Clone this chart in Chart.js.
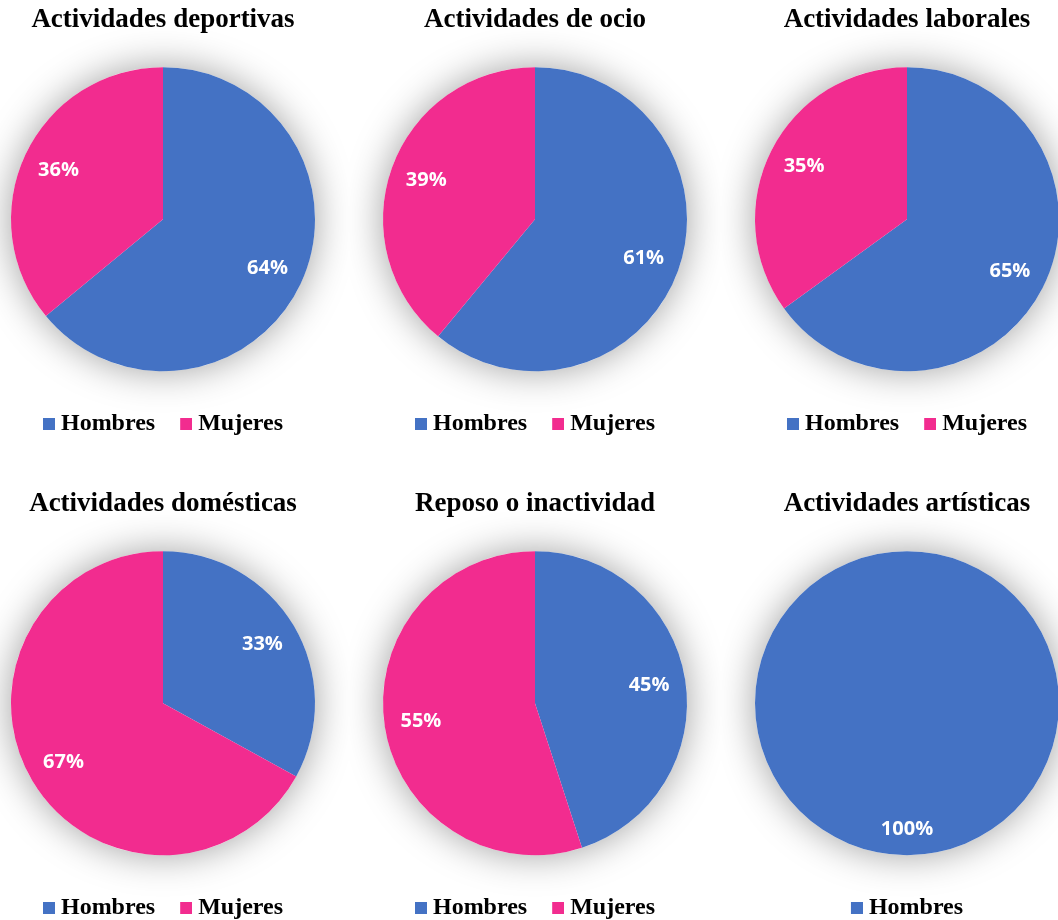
<!DOCTYPE html>
<html>
<head>
<meta charset="utf-8">
<script src="https://cdn.jsdelivr.net/npm/chart.js@4"></script>
<style>
  body { margin: 0; background: #fff; overflow: hidden; }
  #wrap { position: relative; width: 1058px; height: 920px; overflow: hidden; }
  #wrap canvas { position: absolute; }
</style>
</head>
<body>
<div id="wrap"></div>
<script>
// Datos de cada gráfico
const titulos = ['Actividades deportivas', 'Actividades de ocio', 'Actividades laborales',
                 'Actividades domésticas', 'Reposo o inactividad', 'Actividades artísticas'];
const series = ['Hombres', 'Mujeres'];
const hombres = [64, 61, 65, 33, 45, 100];
const mujeres = [36, 39, 35, 67, 55, 0];
const colores = ['#4472C4', '#F22C8F'];

// Cuadrito de color para la leyenda (más pegado al texto)
function cuadro(color) {
    const c = document.createElement('canvas');
    c.width = 18;
    c.height = 12;
    const g = c.getContext('2d');
    g.fillStyle = color;
    g.fillRect(6, 0, 12, 12);
    return c;
}

// Sombra difusa alrededor del pastel
const sombraPlugin = {
    id: 'sombra',
    beforeDatasetsDraw(chart) {
        const arc = chart.getDatasetMeta(0).data[0];
        if (!arc) return;
        const ctx = chart.ctx;
        ctx.save();
        ctx.shadowColor = 'rgba(0, 0, 0, 0.38)';
        ctx.shadowBlur = 38;
        ctx.fillStyle = '#fff';
        ctx.beginPath();
        ctx.arc(arc.x, arc.y, arc.outerRadius, 0, Math.PI * 2);
        ctx.fill();
        ctx.restore();
    }
};

// Etiquetas de porcentaje dentro de cada porción
const etiquetasPlugin = {
    id: 'etiquetas',
    afterDatasetsDraw(chart) {
        const ctx = chart.ctx;
        const meta = chart.getDatasetMeta(0);
        const valores = chart.data.datasets[0].data;
        const total = valores.reduce((a, b) => a + b, 0);
        ctx.save();
        ctx.fillStyle = '#fff';
        ctx.font = 'bold 20px "Open Sans"';
        ctx.textAlign = 'center';
        ctx.textBaseline = 'middle';
        meta.data.forEach((arc, i) => {
            const mid = (arc.startAngle + arc.endAngle) / 2;
            const f = meta.data.length === 1 ? 0.83 : 0.76;
            const x = arc.x + Math.cos(mid) * arc.outerRadius * f;
            const y = arc.y + Math.sin(mid) * arc.outerRadius * f;
            ctx.fillText(Math.round(valores[i] / total * 100) + '%', x, y);
        });
        ctx.restore();
    }
};

const wrap = document.getElementById('wrap');

titulos.forEach((titulo, i) => {
    const canvas = document.createElement('canvas');
    canvas.width = 372;
    canvas.height = 484;
    canvas.style.left = (-23 + (i % 3) * 372) + 'px';
    canvas.style.top = (Math.floor(i / 3) * 484) + 'px';
    wrap.appendChild(canvas);

    // Solo las series con valor
    const valores = [hombres[i], mujeres[i]];
    const idx = [0, 1].filter(k => valores[k] > 0);

    new Chart(canvas, {
        type: 'pie',
        data: {
            labels: idx.map(k => series[k]),
            datasets: [{
                data: idx.map(k => valores[k]),
                backgroundColor: idx.map(k => colores[k]),
                borderWidth: 0,
                radius: 152
            }]
        },
        options: {
            responsive: false,
            animation: false,
            layout: { padding: { bottom: 38 } },
            plugins: {
                tooltip: { enabled: false },
                title: {
                    display: true,
                    text: titulo,
                    color: '#000',
                    font: { family: '"Liberation Serif"', size: 27, weight: 'bold' },
                    padding: { top: 4, bottom: 15 }
                },
                legend: {
                    position: 'bottom',
                    labels: {
                        color: '#000',
                        font: { family: '"Liberation Serif"', size: 24, weight: 'bold' },
                        usePointStyle: true,
                        pointStyleWidth: 6,
                        boxHeight: 12,
                        padding: 25,
                        generateLabels(chart) {
                            const items = Chart.overrides.pie.plugins.legend.labels.generateLabels(chart);
                            items.forEach(it => { it.pointStyle = cuadro(it.fillStyle); });
                            return items;
                        }
                    }
                }
            }
        },
        plugins: [sombraPlugin, etiquetasPlugin]
    });
});
</script>
</body>
</html>
